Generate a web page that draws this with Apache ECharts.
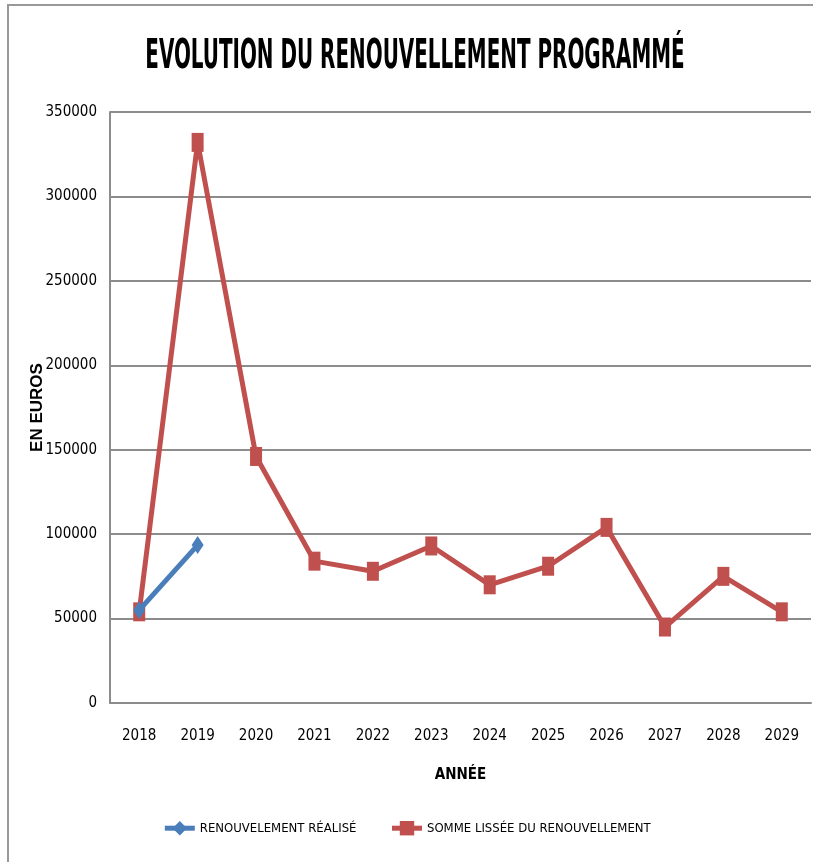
<!DOCTYPE html>
<html>
<head>
<meta charset="utf-8">
<script src="https://cdn.jsdelivr.net/npm/echarts@6/dist/echarts.min.js"></script>
<style>
  html, body { margin: 0; padding: 0; background: #fff; }
  #main { width: 813px; height: 862px; }
</style>
</head>
<body>
<div id="main"></div>
<script>
// années et valeurs
var annees = ["2018", "2019", "2020", "2021", "2022", "2023", "2024", "2025", "2026", "2027", "2028", "2029"];
var realise = [55000, 93500, null, null, null, null, null, null, null, null, null, null];
var lisse = [54000, 332000, 146000, 84000, 78000, 93000, 70000, 81000, 104000, 45000, 75000, 54000];
var nomRealise = "RENOUVELEMENT RÉALISÉ";
var nomLisse = "SOMME LISSÉE DU RENOUVELLEMENT";
var titre = "EVOLUTION DU RENOUVELLEMENT PROGRAMMÉ";

var narrow = "'Liberation Sans Narrow', 'DejaVu Sans Condensed', sans-serif";
var gris = "#8c8c8c";
var bleu = "#4a7ebb";
var rouge = "#c0504d";

var chart = echarts.init(document.getElementById("main"));
var option = {
	backgroundColor: "#fff",
	animation: false,
	graphic: [{
		// cadre (haut et gauche seulement)
		type: "polyline",
		shape: { points: [[8, 862], [8, 5], [813, 5]] },
		style: { fill: null, stroke: "#999", lineWidth: 2 },
		silent: true
	}, {
		type: "text",
		x: 415,
		y: 57,
		scaleX: 0.54,
		style: {
			text: titre,
			fontFamily: "'DejaVu Sans Condensed', sans-serif",
			fontWeight: "bold",
			fontSize: 41,
			fill: "#000",
			align: "center",
			verticalAlign: "middle"
		},
		silent: true
	}],
	legend: {
		top: 816,
		left: "center",
		itemWidth: 30,
		itemHeight: 18,
		itemGap: 33,
		textStyle: { fontFamily: narrow, fontSize: 13, color: "#000" },
		data: [{
			name: nomRealise,
			itemStyle: { color: bleu },
			lineStyle: { color: bleu, width: 5 }
		}, {
			name: nomLisse,
			itemStyle: { color: rouge },
			lineStyle: { color: rouge, width: 5 }
		}]
	},
	grid: {
		left: 110,
		right: 2,
		top: 112,
		bottom: 159
	},
	xAxis: {
		type: "category",
		data: annees,
		boundaryGap: true,
		name: "ANNÉE",
		nameLocation: "middle",
		nameGap: 65,
		nameMoveOverlap: false,
		nameTextStyle: { fontFamily: narrow, fontWeight: "bold", fontSize: 15, color: "#000" },
		axisLine: { lineStyle: { color: gris, width: 2 } },
		axisTick: { show: false },
		axisLabel: { fontFamily: narrow, fontSize: 15, color: "#000", margin: 26 }
	},
	yAxis: {
		type: "value",
		min: 0,
		max: 350000,
		interval: 50000,
		name: "EN EUROS",
		nameLocation: "middle",
		nameGap: 64,
		nameRotate: 90,
		nameMoveOverlap: false,
		nameTextStyle: { fontFamily: "'Liberation Sans', Arial, sans-serif", fontWeight: "bold", fontSize: 17, color: "#000" },
		axisLine: { show: true, lineStyle: { color: gris, width: 2 } },
		axisTick: { show: false },
		splitLine: { lineStyle: { color: gris, width: 2 } },
		axisLabel: {
			fontFamily: narrow, fontSize: 15, color: "#000", margin: 13,
			formatter: function (v) { return String(v); }
		}
	},
	series: [{
		name: nomLisse,
		type: "line",
		data: lisse,
		z: 2,
		color: rouge,
		symbol: "rect",
		symbolSize: [12, 19],
		lineStyle: { width: 5, color: rouge },
		itemStyle: { color: rouge }
	}, {
		name: nomRealise,
		type: "line",
		data: realise,
		z: 3,
		color: bleu,
		symbol: "diamond",
		symbolSize: [12, 18],
		lineStyle: { width: 5, color: bleu },
		itemStyle: { color: bleu }
	}]
};
chart.setOption(option);
</script>
</body>
</html>
